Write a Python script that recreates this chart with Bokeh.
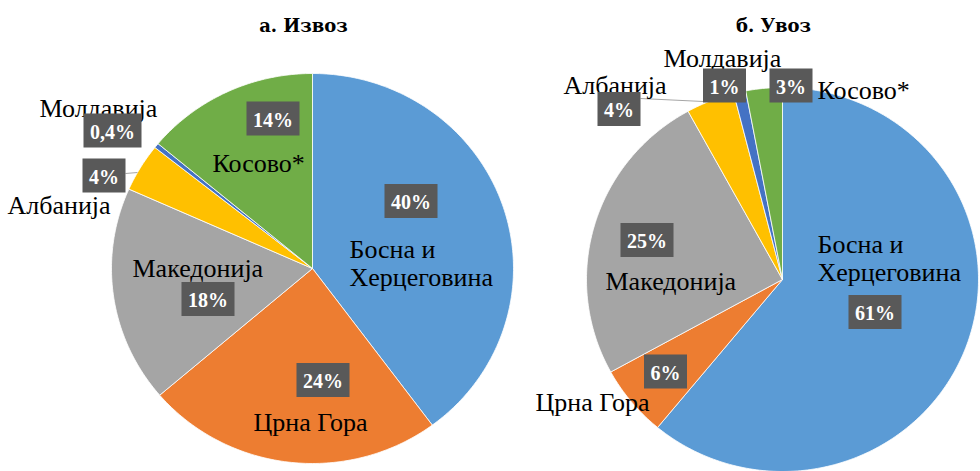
import math
import numpy as np
from bokeh.plotting import figure
from bokeh.models import Range1d
from bokeh.embed import file_html
from bokeh.resources import INLINE
from bokeh.core.properties import value

# ---------------- data ----------------
categories = ["Босна и Херцеговина", "Црна Гора", "Македонија", "Албанија", "Молдавија", "Косово*"]
name_lines = [["Босна и", "Херцеговина"], ["Црна Гора"], ["Македонија"], ["Албанија"], ["Молдавија"], ["Косово*"]]
export_share = [40, 24, 18, 4, 0.4, 14]
import_share = [61, 6, 25, 4, 1, 3]
export_labels = ["40%", "24%", "18%", "4%", "0,4%", "14%"]
import_labels = ["61%", "6%", "25%", "4%", "1%", "3%"]
titles = ["а. Извоз", "б. Увоз"]
colors = ["#5B9BD5", "#ED7D31", "#A5A5A5", "#FFC000", "#4472C4", "#70AD47"]

# ---------------- layout (screen pixels in the page) ----------------
W, H = 980, 471


def Y(sy):
    return H - sy


pies = [
    dict(
        shares=export_share, labels=export_labels, title=titles[0],
        center=(312, 268), rx=201, ry=195, title_pos=(303, 25),
        boxes=[(410.5, 200.5), (322.5, 379.5), (207.5, 298.5), (103.5, 175), (112, 130), (272.5, 118)],
        names=[(349, 249), (253, 422), (132, 268), (7, 205), (39, 108), (212, 163)],
        leaders=[((125, 173), (137, 172))],
    ),
    dict(
        shares=import_share, labels=import_labels, title=titles[1],
        center=(782, 279), rx=196, ry=192, title_pos=(773, 25),
        boxes=[(874.5, 311.5), (665, 371), (646.5, 239.5), (618.5, 108.5), (724, 85), (790.5, 85)],
        names=[(817, 244), (535, 402), (605, 281), (563, 85), (663, 58), (817, 90)],
        leaders=[((640, 98), (703, 101))],
    ),
]
LINE_H = 28
BOX_H = 34
box_w = {2: 43, 3: 53, 4: 58}

SERIF = "Liberation Serif"

p = figure(width=W, height=H, x_range=Range1d(0, W), y_range=Range1d(0, H),
           output_backend="svg", toolbar_location=None, min_border=0,
           background_fill_color="white", border_fill_color="white")
p.outline_line_color = None
p.axis.visible = False
p.grid.visible = False

for pie in pies:
    cx, cy = pie["center"]
    rx, ry = pie["rx"], pie["ry"]
    total = sum(pie["shares"])
    cum = 0.0
    xs, ys = [], []
    for s in pie["shares"]:
        a_end = math.pi / 2 - 2 * math.pi * cum / total
        cum += s
        a_start = math.pi / 2 - 2 * math.pi * cum / total
        steps = max(4, int(abs(a_end - a_start) / (math.pi / 180)) + 2)
        th = np.linspace(a_start, a_end, steps)
        px = np.concatenate([[cx], cx + rx * np.cos(th)])
        py = np.concatenate([[Y(cy)], Y(cy) + ry * np.sin(th)])
        xs.append(px.tolist())
        ys.append(py.tolist())
    p.patches(xs=xs, ys=ys, fill_color=colors, line_color="white", line_width=0.8)

    # leader lines
    for (x0, y0), (x1, y1) in pie["leaders"]:
        p.line(x=[x0, x1], y=[Y(y0), Y(y1)], line_color="#A6A6A6", line_width=1.2)

    # title
    tx, ty = pie["title_pos"]
    p.text(x=[tx], y=[Y(ty)], text=[pie["title"]], text_font=value("DejaVu Serif"),
           text_font_style="bold", text_font_size="18px", text_align="center",
           text_baseline="alphabetic", text_color="black")

    # category names
    for lines, (nx, ny) in zip(name_lines, pie["names"]):
        for k, ln in enumerate(lines):
            p.text(x=[nx], y=[Y(ny + k * LINE_H)], text=[ln], text_font=value(SERIF),
                   text_font_size="26px", text_align="left", text_baseline="alphabetic",
                   text_color="black")

    # value boxes
    bx = [b[0] for b in pie["boxes"]]
    by = [Y(b[1]) for b in pie["boxes"]]
    bw = [box_w[len(l)] for l in pie["labels"]]
    p.rect(x=bx, y=by, width=bw, height=BOX_H, fill_color="#595959", line_color=None)
    p.text(x=bx, y=[v - 1 for v in by], text=pie["labels"], text_font=value(SERIF),
           text_font_style="bold", text_font_size="20px", text_align="center",
           text_baseline="middle", text_color="white")

open("out.html", "w").write(file_html(p, INLINE))
